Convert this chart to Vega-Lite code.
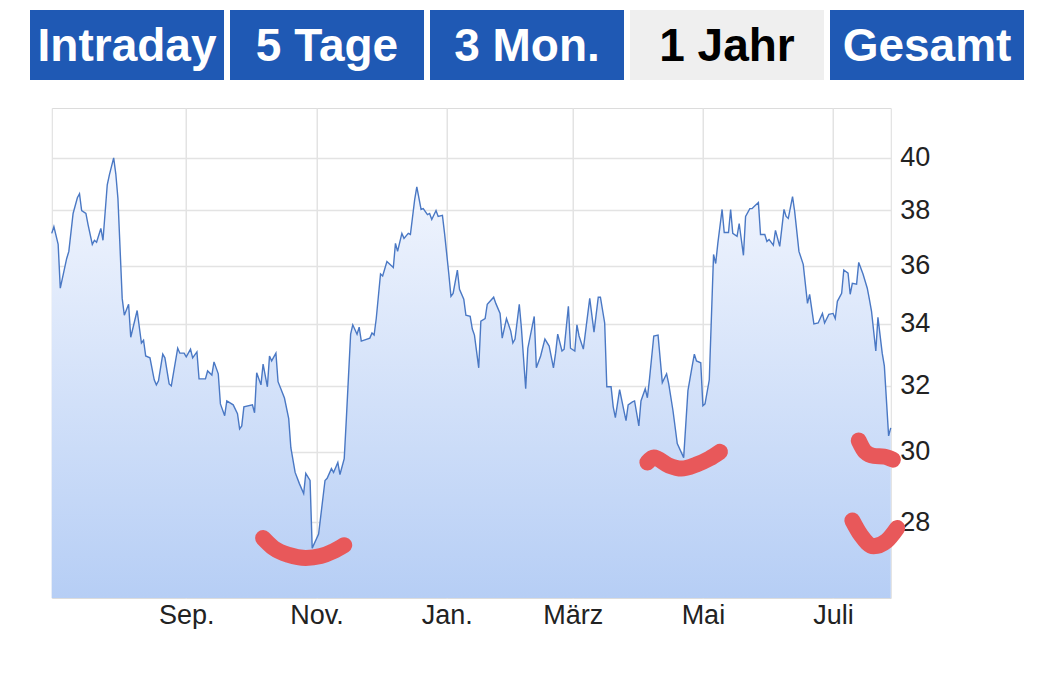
{
  "$schema": "https://vega.github.io/schema/vega-lite/v6.json",
  "padding": {"left": 30, "top": 10, "right": 0, "bottom": 0},
  "spacing": 27,
  "center": true,
  "config": {
    "font": "Liberation Sans",
    "axis": {"labelColor": "#222222", "gridColor": "#e3e3e3", "gridWidth": 1.5, "ticks": false, "domain": false, "title": null},
    "view": {"stroke": "#dcdcdc"}
  },
  "datasets": {
    "tabs": [
      {"tab": "Intraday", "status": "inaktiv"},
      {"tab": "5 Tage", "status": "inaktiv"},
      {"tab": "3 Mon.", "status": "inaktiv"},
      {"tab": "1 Jahr", "status": "aktiv"},
      {"tab": "Gesamt", "status": "inaktiv"}
    ],
    "kurs": [
      {"datum": "2021-06-30", "kurs": 37.15}, {"datum": "2021-07-01", "kurs": 37.40}, {"datum": "2021-07-03", "kurs": 36.75},
      {"datum": "2021-07-04", "kurs": 35.21}, {"datum": "2021-07-07", "kurs": 36.25}, {"datum": "2021-07-08", "kurs": 36.50},
      {"datum": "2021-07-10", "kurs": 37.88}, {"datum": "2021-07-12", "kurs": 38.47}, {"datum": "2021-07-13", "kurs": 38.62},
      {"datum": "2021-07-14", "kurs": 37.99}, {"datum": "2021-07-16", "kurs": 37.88}, {"datum": "2021-07-17", "kurs": 37.47},
      {"datum": "2021-07-19", "kurs": 36.75}, {"datum": "2021-07-20", "kurs": 36.90}, {"datum": "2021-07-21", "kurs": 36.83},
      {"datum": "2021-07-23", "kurs": 37.33}, {"datum": "2021-07-24", "kurs": 36.90}, {"datum": "2021-07-26", "kurs": 38.96},
      {"datum": "2021-07-27", "kurs": 39.34}, {"datum": "2021-07-29", "kurs": 40.00}, {"datum": "2021-07-30", "kurs": 39.38},
      {"datum": "2021-07-31", "kurs": 38.44}, {"datum": "2021-08-02", "kurs": 34.86}, {"datum": "2021-08-03", "kurs": 34.29},
      {"datum": "2021-08-05", "kurs": 34.66}, {"datum": "2021-08-06", "kurs": 33.56}, {"datum": "2021-08-09", "kurs": 34.45},
      {"datum": "2021-08-11", "kurs": 33.37}, {"datum": "2021-08-12", "kurs": 33.46}, {"datum": "2021-08-13", "kurs": 32.95},
      {"datum": "2021-08-15", "kurs": 32.89}, {"datum": "2021-08-17", "kurs": 32.19}, {"datum": "2021-08-18", "kurs": 32.03},
      {"datum": "2021-08-19", "kurs": 32.16}, {"datum": "2021-08-21", "kurs": 33.01}, {"datum": "2021-08-22", "kurs": 32.89},
      {"datum": "2021-08-24", "kurs": 32.06}, {"datum": "2021-08-25", "kurs": 32.00}, {"datum": "2021-08-28", "kurs": 33.20},
      {"datum": "2021-08-29", "kurs": 33.04}, {"datum": "2021-08-31", "kurs": 33.04}, {"datum": "2021-09-01", "kurs": 32.92},
      {"datum": "2021-09-03", "kurs": 33.17}, {"datum": "2021-09-04", "kurs": 32.89}, {"datum": "2021-09-06", "kurs": 33.08},
      {"datum": "2021-09-07", "kurs": 32.22}, {"datum": "2021-09-10", "kurs": 32.22}, {"datum": "2021-09-11", "kurs": 32.47},
      {"datum": "2021-09-13", "kurs": 32.34}, {"datum": "2021-09-14", "kurs": 32.76}, {"datum": "2021-09-16", "kurs": 32.38},
      {"datum": "2021-09-17", "kurs": 31.44}, {"datum": "2021-09-19", "kurs": 31.08}, {"datum": "2021-09-20", "kurs": 31.53},
      {"datum": "2021-09-23", "kurs": 31.41}, {"datum": "2021-09-25", "kurs": 31.14}, {"datum": "2021-09-26", "kurs": 30.68},
      {"datum": "2021-09-27", "kurs": 30.77}, {"datum": "2021-09-28", "kurs": 31.35}, {"datum": "2021-10-02", "kurs": 31.41},
      {"datum": "2021-10-03", "kurs": 31.17}, {"datum": "2021-10-04", "kurs": 32.41}, {"datum": "2021-10-06", "kurs": 32.03},
      {"datum": "2021-10-07", "kurs": 32.69}, {"datum": "2021-10-09", "kurs": 31.97}, {"datum": "2021-10-10", "kurs": 32.95},
      {"datum": "2021-10-11", "kurs": 32.79}, {"datum": "2021-10-13", "kurs": 33.04}, {"datum": "2021-10-14", "kurs": 32.13},
      {"datum": "2021-10-17", "kurs": 31.62}, {"datum": "2021-10-19", "kurs": 30.99}, {"datum": "2021-10-20", "kurs": 30.12},
      {"datum": "2021-10-22", "kurs": 29.40}, {"datum": "2021-10-24", "kurs": 29.08}, {"datum": "2021-10-26", "kurs": 28.80},
      {"datum": "2021-10-27", "kurs": 29.37}, {"datum": "2021-10-29", "kurs": 29.17}, {"datum": "2021-10-30", "kurs": 27.30},
      {"datum": "2021-11-02", "kurs": 27.68}, {"datum": "2021-11-05", "kurs": 29.17}, {"datum": "2021-11-06", "kurs": 29.23},
      {"datum": "2021-11-08", "kurs": 29.51}, {"datum": "2021-11-09", "kurs": 29.40}, {"datum": "2021-11-11", "kurs": 29.69},
      {"datum": "2021-11-12", "kurs": 29.34}, {"datum": "2021-11-14", "kurs": 29.80}, {"datum": "2021-11-15", "kurs": 30.99},
      {"datum": "2021-11-17", "kurs": 33.66}, {"datum": "2021-11-18", "kurs": 33.97}, {"datum": "2021-11-20", "kurs": 33.66},
      {"datum": "2021-11-21", "kurs": 33.89}, {"datum": "2021-11-22", "kurs": 33.43}, {"datum": "2021-11-26", "kurs": 33.53},
      {"datum": "2021-11-27", "kurs": 33.70}, {"datum": "2021-11-28", "kurs": 33.63}, {"datum": "2021-11-29", "kurs": 34.18},
      {"datum": "2021-12-01", "kurs": 35.70}, {"datum": "2021-12-02", "kurs": 35.63}, {"datum": "2021-12-04", "kurs": 36.14},
      {"datum": "2021-12-07", "kurs": 35.93}, {"datum": "2021-12-08", "kurs": 36.79}, {"datum": "2021-12-09", "kurs": 36.50},
      {"datum": "2021-12-11", "kurs": 37.15}, {"datum": "2021-12-12", "kurs": 36.97}, {"datum": "2021-12-14", "kurs": 37.15},
      {"datum": "2021-12-15", "kurs": 37.11}, {"datum": "2021-12-17", "kurs": 38.40}, {"datum": "2021-12-18", "kurs": 38.88},
      {"datum": "2021-12-20", "kurs": 38.03}, {"datum": "2021-12-21", "kurs": 38.06}, {"datum": "2021-12-23", "kurs": 37.84},
      {"datum": "2021-12-24", "kurs": 37.88}, {"datum": "2021-12-25", "kurs": 37.66}, {"datum": "2021-12-27", "kurs": 37.99},
      {"datum": "2021-12-28", "kurs": 37.77}, {"datum": "2021-12-30", "kurs": 37.81}, {"datum": "2021-12-31", "kurs": 37.15},
      {"datum": "2022-01-02", "kurs": 35.70}, {"datum": "2022-01-03", "kurs": 34.93}, {"datum": "2022-01-04", "kurs": 35.03},
      {"datum": "2022-01-06", "kurs": 35.84}, {"datum": "2022-01-07", "kurs": 35.17}, {"datum": "2022-01-09", "kurs": 34.83},
      {"datum": "2022-01-10", "kurs": 34.29}, {"datum": "2022-01-12", "kurs": 34.25}, {"datum": "2022-01-13", "kurs": 33.83},
      {"datum": "2022-01-14", "kurs": 33.63}, {"datum": "2022-01-16", "kurs": 32.57}, {"datum": "2022-01-17", "kurs": 34.09},
      {"datum": "2022-01-19", "kurs": 34.18}, {"datum": "2022-01-20", "kurs": 34.66}, {"datum": "2022-01-23", "kurs": 34.90},
      {"datum": "2022-01-24", "kurs": 34.69}, {"datum": "2022-01-26", "kurs": 34.35}, {"datum": "2022-01-27", "kurs": 33.53},
      {"datum": "2022-01-29", "kurs": 34.18}, {"datum": "2022-01-31", "kurs": 33.76}, {"datum": "2022-02-01", "kurs": 33.37},
      {"datum": "2022-02-02", "kurs": 33.50}, {"datum": "2022-02-04", "kurs": 34.66}, {"datum": "2022-02-05", "kurs": 33.86},
      {"datum": "2022-02-07", "kurs": 31.91}, {"datum": "2022-02-08", "kurs": 33.20}, {"datum": "2022-02-11", "kurs": 34.25},
      {"datum": "2022-02-12", "kurs": 32.57}, {"datum": "2022-02-14", "kurs": 32.95}, {"datum": "2022-02-16", "kurs": 33.50},
      {"datum": "2022-02-18", "kurs": 33.27}, {"datum": "2022-02-20", "kurs": 32.57}, {"datum": "2022-02-21", "kurs": 33.04},
      {"datum": "2022-02-22", "kurs": 33.66}, {"datum": "2022-02-24", "kurs": 33.11}, {"datum": "2022-02-25", "kurs": 33.17},
      {"datum": "2022-02-27", "kurs": 34.59}, {"datum": "2022-02-28", "kurs": 33.20}, {"datum": "2022-03-02", "kurs": 33.11},
      {"datum": "2022-03-03", "kurs": 33.97}, {"datum": "2022-03-04", "kurs": 33.60}, {"datum": "2022-03-06", "kurs": 33.17},
      {"datum": "2022-03-09", "kurs": 34.86}, {"datum": "2022-03-11", "kurs": 33.73}, {"datum": "2022-03-13", "kurs": 34.90},
      {"datum": "2022-03-14", "kurs": 34.90}, {"datum": "2022-03-16", "kurs": 34.03}, {"datum": "2022-03-17", "kurs": 31.97},
      {"datum": "2022-03-19", "kurs": 31.97}, {"datum": "2022-03-20", "kurs": 31.35}, {"datum": "2022-03-21", "kurs": 31.02},
      {"datum": "2022-03-23", "kurs": 31.88}, {"datum": "2022-03-25", "kurs": 31.23}, {"datum": "2022-03-26", "kurs": 30.93},
      {"datum": "2022-03-27", "kurs": 31.41}, {"datum": "2022-03-29", "kurs": 31.50}, {"datum": "2022-03-30", "kurs": 31.53},
      {"datum": "2022-04-01", "kurs": 30.77}, {"datum": "2022-04-02", "kurs": 31.53}, {"datum": "2022-04-04", "kurs": 31.91},
      {"datum": "2022-04-05", "kurs": 31.63}, {"datum": "2022-04-06", "kurs": 32.22}, {"datum": "2022-04-08", "kurs": 33.60},
      {"datum": "2022-04-10", "kurs": 33.63}, {"datum": "2022-04-12", "kurs": 32.10}, {"datum": "2022-04-14", "kurs": 32.38},
      {"datum": "2022-04-15", "kurs": 32.06}, {"datum": "2022-04-17", "kurs": 31.23}, {"datum": "2022-04-19", "kurs": 30.24},
      {"datum": "2022-04-22", "kurs": 29.83}, {"datum": "2022-04-24", "kurs": 31.85}, {"datum": "2022-04-26", "kurs": 32.63},
      {"datum": "2022-04-27", "kurs": 33.01}, {"datum": "2022-04-28", "kurs": 32.79}, {"datum": "2022-04-30", "kurs": 32.73},
      {"datum": "2022-05-01", "kurs": 31.38}, {"datum": "2022-05-02", "kurs": 31.44}, {"datum": "2022-05-04", "kurs": 32.19},
      {"datum": "2022-05-06", "kurs": 36.39}, {"datum": "2022-05-07", "kurs": 36.07}, {"datum": "2022-05-08", "kurs": 36.79},
      {"datum": "2022-05-10", "kurs": 38.03}, {"datum": "2022-05-11", "kurs": 37.18}, {"datum": "2022-05-13", "kurs": 37.18},
      {"datum": "2022-05-14", "kurs": 38.03}, {"datum": "2022-05-15", "kurs": 37.15}, {"datum": "2022-05-17", "kurs": 37.04},
      {"datum": "2022-05-18", "kurs": 37.51}, {"datum": "2022-05-20", "kurs": 36.36}, {"datum": "2022-05-21", "kurs": 37.77},
      {"datum": "2022-05-23", "kurs": 38.06}, {"datum": "2022-05-24", "kurs": 38.06}, {"datum": "2022-05-25", "kurs": 38.14},
      {"datum": "2022-05-27", "kurs": 38.29}, {"datum": "2022-05-28", "kurs": 37.11}, {"datum": "2022-05-30", "kurs": 37.11},
      {"datum": "2022-05-31", "kurs": 36.86}, {"datum": "2022-06-01", "kurs": 36.93}, {"datum": "2022-06-03", "kurs": 36.72},
      {"datum": "2022-06-04", "kurs": 37.26}, {"datum": "2022-06-06", "kurs": 36.68}, {"datum": "2022-06-08", "kurs": 38.03},
      {"datum": "2022-06-09", "kurs": 37.77}, {"datum": "2022-06-10", "kurs": 37.70}, {"datum": "2022-06-12", "kurs": 38.51},
      {"datum": "2022-06-13", "kurs": 37.95}, {"datum": "2022-06-15", "kurs": 36.50}, {"datum": "2022-06-17", "kurs": 36.04},
      {"datum": "2022-06-19", "kurs": 34.69}, {"datum": "2022-06-20", "kurs": 35.00}, {"datum": "2022-06-22", "kurs": 34.00},
      {"datum": "2022-06-24", "kurs": 34.03}, {"datum": "2022-06-26", "kurs": 34.35}, {"datum": "2022-06-27", "kurs": 34.03},
      {"datum": "2022-06-29", "kurs": 34.32}, {"datum": "2022-07-01", "kurs": 34.35}, {"datum": "2022-07-02", "kurs": 34.18},
      {"datum": "2022-07-03", "kurs": 34.76}, {"datum": "2022-07-05", "kurs": 35.03}, {"datum": "2022-07-06", "kurs": 35.84},
      {"datum": "2022-07-08", "kurs": 35.73}, {"datum": "2022-07-09", "kurs": 35.00}, {"datum": "2022-07-10", "kurs": 35.38},
      {"datum": "2022-07-12", "kurs": 35.35}, {"datum": "2022-07-13", "kurs": 36.11}, {"datum": "2022-07-15", "kurs": 35.70},
      {"datum": "2022-07-17", "kurs": 35.21}, {"datum": "2022-07-18", "kurs": 34.83}, {"datum": "2022-07-19", "kurs": 34.42},
      {"datum": "2022-07-21", "kurs": 33.11}, {"datum": "2022-07-22", "kurs": 34.22}, {"datum": "2022-07-24", "kurs": 33.04},
      {"datum": "2022-07-25", "kurs": 32.63}, {"datum": "2022-07-27", "kurs": 30.47}, {"datum": "2022-07-28", "kurs": 30.71}
    ],
    "markierung": [
      {"strich": "A", "datum": "2021-10-07", "wert": 27.57}, {"strich": "A", "datum": "2021-10-12", "wert": 27.30},
      {"strich": "A", "datum": "2021-10-19", "wert": 27.12}, {"strich": "A", "datum": "2021-10-27", "wert": 27.04},
      {"strich": "A", "datum": "2021-11-03", "wert": 27.09}, {"strich": "A", "datum": "2021-11-09", "wert": 27.22},
      {"strich": "A", "datum": "2021-11-14", "wert": 27.38},
      {"strich": "B", "datum": "2022-04-05", "wert": 29.69}, {"strich": "B", "datum": "2022-04-08", "wert": 29.83},
      {"strich": "B", "datum": "2022-04-15", "wert": 29.60}, {"strich": "B", "datum": "2022-04-21", "wert": 29.51},
      {"strich": "B", "datum": "2022-04-28", "wert": 29.63}, {"strich": "B", "datum": "2022-05-04", "wert": 29.80},
      {"strich": "B", "datum": "2022-05-09", "wert": 30.00},
      {"strich": "C", "datum": "2022-07-13", "wert": 30.33}, {"strich": "C", "datum": "2022-07-16", "wert": 30.00},
      {"strich": "C", "datum": "2022-07-20", "wert": 29.88}, {"strich": "C", "datum": "2022-07-25", "wert": 29.86},
      {"strich": "C", "datum": "2022-07-29", "wert": 29.77},
      {"strich": "D", "datum": "2022-07-10", "wert": 28.05}, {"strich": "D", "datum": "2022-07-14", "wert": 27.65},
      {"strich": "D", "datum": "2022-07-20", "wert": 27.35}, {"strich": "D", "datum": "2022-07-26", "wert": 27.49},
      {"strich": "D", "datum": "2022-07-31", "wert": 27.84}
    ]
  },
  "vconcat": [
    {
      "width": 994,
      "height": 70,
      "view": {"stroke": null},
      "data": {"name": "tabs"},
      "layer": [
        {
          "mark": {"type": "rect"},
          "encoding": {
            "x": {"field": "tab", "type": "nominal", "sort": null, "scale": {"paddingInner": 0.03, "paddingOuter": 0}, "axis": null},
            "fill": {"field": "status", "type": "nominal", "scale": {"domain": ["aktiv", "inaktiv"], "range": ["#efefef", "#1f59b4"]}, "legend": null}
          }
        },
        {
          "mark": {"type": "text", "fontSize": 46, "fontWeight": "bold", "font": "Liberation Sans", "dy": 2},
          "encoding": {
            "x": {"field": "tab", "type": "nominal", "sort": null, "axis": null},
            "text": {"field": "tab"},
            "color": {"field": "status", "type": "nominal", "scale": {"domain": ["aktiv", "inaktiv"], "range": ["#000000", "#ffffff"]}, "legend": null}
          }
        }
      ]
    },
    {
      "width": 839,
      "height": 490,
      "layer": [
        {
          "data": {"name": "kurs"},
          "mark": {
            "type": "area",
            "color": {"gradient": "linear", "x1": 0, "y1": 0, "x2": 0, "y2": 1,
              "stops": [{"offset": 0, "color": "#f4f7fe"}, {"offset": 1, "color": "#b6cef5"}]}
          },
          "encoding": {
            "x": {
              "field": "datum", "type": "temporal",
              "scale": {"type": "utc", "domain": [{"year": 2021, "month": 6, "date": 30, "utc": true}, {"year": 2022, "month": 7, "date": 28, "utc": true}]},
              "axis": {
                "values": [
                  {"year": 2021, "month": 9, "date": 1, "utc": true},
                  {"year": 2021, "month": 11, "date": 1, "utc": true},
                  {"year": 2022, "month": 1, "date": 1, "utc": true},
                  {"year": 2022, "month": 3, "date": 1, "utc": true},
                  {"year": 2022, "month": 5, "date": 1, "utc": true},
                  {"year": 2022, "month": 7, "date": 1, "utc": true}
                ],
                "labelExpr": "['Jan.','Feb.','März','Apr.','Mai','Juni','Juli','Aug.','Sep.','Okt.','Nov.','Dez.'][utcmonth(datum.value)]",
                "labelFontSize": 27,
                "labelPadding": 4,
                "grid": true
              }
            },
            "y": {
              "field": "kurs", "type": "quantitative",
              "scale": {"type": "log", "domain": [26, 42], "nice": false},
              "axis": {"orient": "right", "values": [28, 30, 32, 34, 36, 38, 40], "labelFontSize": 27, "labelPadding": 9, "grid": true, "minExtent": 111, "maxExtent": 111}
            },
            "y2": {"datum": 26}
          }
        },
        {
          "data": {"name": "kurs"},
          "mark": {"type": "line", "color": "#4a78c4", "strokeWidth": 1.4},
          "encoding": {
            "x": {"field": "datum", "type": "temporal"},
            "y": {"field": "kurs", "type": "quantitative"}
          }
        },
        {
          "data": {"name": "markierung"},
          "mark": {"type": "line", "color": "#e8585a", "strokeWidth": 16, "strokeCap": "round", "strokeJoin": "round", "interpolate": "monotone"},
          "encoding": {
            "x": {"field": "datum", "type": "temporal"},
            "y": {"field": "wert", "type": "quantitative"},
            "detail": {"field": "strich", "type": "nominal"}
          }
        }
      ]
    }
  ]
}
